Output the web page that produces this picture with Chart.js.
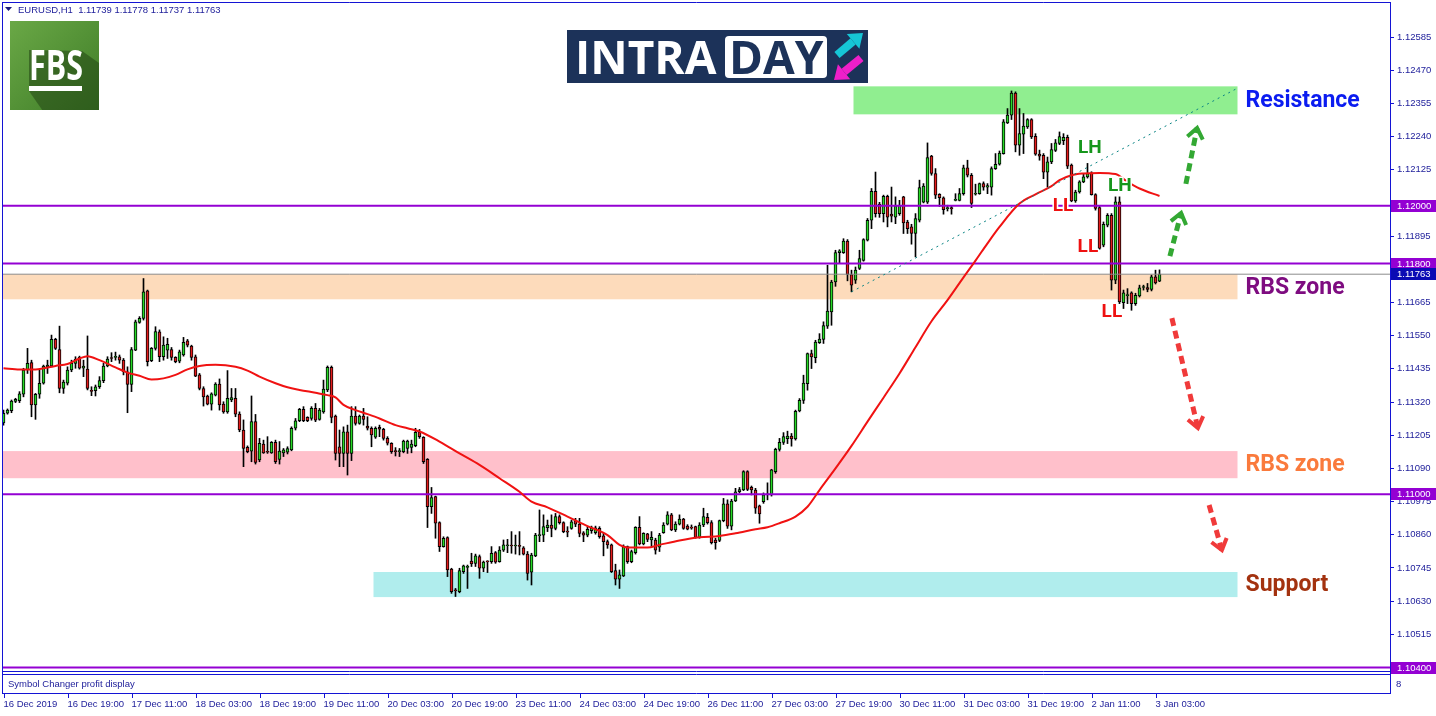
<!DOCTYPE html>
<html>
<head>
<meta charset="utf-8">
<title>EURUSD H1 intraday</title>
<script src="https://cdn.jsdelivr.net/npm/chart.js@4.4.1/dist/chart.umd.min.js"></script>
<style>
  html,body{margin:0;padding:0;background:#fff;}
  canvas{display:block;}
</style>
</head>
<body>
<canvas id="chart" width="1436" height="716"></canvas>
<script>
// ------------------ DATA ------------------
const symbol = "EURUSD", timeframe = "H1";

// one label every 16 hourly bars, first one on bar 0
const labelEvery = 16;
const timeLabels = ["16 Dec 2019","16 Dec 19:00","17 Dec 11:00","18 Dec 03:00","18 Dec 19:00","19 Dec 11:00",
  "20 Dec 03:00","20 Dec 19:00","23 Dec 11:00","24 Dec 03:00","24 Dec 19:00","26 Dec 11:00","27 Dec 03:00",
  "27 Dec 19:00","30 Dec 11:00","31 Dec 03:00","31 Dec 19:00","2 Jan 11:00","3 Jan 03:00"];

const open = [
  1.11248,1.11281,1.11290,1.11322,1.11325,1.11347,1.11431,1.11457,1.11310,1.11347,
  1.11385,1.11442,1.11445,1.11537,1.11502,1.11367,1.11385,1.11431,1.11454,1.11475,
  1.11437,1.11434,1.11358,1.11359,1.11373,1.11394,1.11445,1.11474,1.11475,1.11477,
  1.11465,1.11425,1.11381,1.11500,1.11596,1.11610,1.11705,1.11463,1.11506,1.11563,
  1.11477,1.11500,1.11502,1.11475,1.11462,1.11483,1.11532,1.11514,1.11477,1.11414,
  1.11367,1.11341,1.11313,1.11344,1.11382,1.11313,1.11286,1.11327,1.11333,1.11278,
  1.11223,1.11163,1.11150,1.11252,1.11119,1.11174,1.11148,1.11144,1.11180,1.11121,
  1.11144,1.11146,1.11154,1.11229,1.11255,1.11295,1.11267,1.11263,1.11298,1.11260,
  1.11286,1.11362,1.11440,1.11271,1.11165,1.11142,1.11217,1.11142,1.11271,1.11246,
  1.11271,1.11237,1.11229,1.11198,1.11232,1.11225,1.11194,1.11177,1.11150,1.11148,
  1.11148,1.11159,1.11163,1.11169,1.11215,1.11198,1.11121,1.10957,1.10992,1.10902,
  1.10819,1.10850,1.10741,1.10669,1.10663,1.10732,1.10747,1.10769,1.10761,1.10784,
  1.10744,1.10767,1.10767,1.10798,1.10767,1.10807,1.10822,1.10822,1.10821,1.10822,
  1.10815,1.10793,1.10730,1.10787,1.10857,1.10859,1.10885,1.10894,1.10882,1.10923,
  1.10902,1.10871,1.10882,1.10909,1.10897,1.10867,1.10859,1.10874,1.10867,1.10882,
  1.10856,1.10836,1.10825,1.10736,1.10706,1.10717,1.10819,1.10767,1.10798,1.10886,
  1.10828,1.10863,1.10842,1.10842,1.10817,1.10867,1.10897,1.10929,1.10877,1.10897,
  1.10914,1.10890,1.10884,1.10888,1.10851,1.10894,1.10920,1.10902,1.10842,1.10840,
  1.10909,1.10967,1.10890,1.10977,1.11009,1.11015,1.11079,1.11024,1.11015,1.10960,
  1.10975,1.10998,1.10998,1.11079,1.11156,1.11180,1.11193,1.11202,1.11192,1.11289,
  1.11326,1.11384,1.11488,1.11474,1.11526,1.11537,1.11583,1.11632,1.11736,1.11838,
  1.11838,1.11878,1.11762,1.11742,1.11783,1.11811,1.11881,1.11950,1.12050,1.12006,
  1.11973,1.12033,1.11971,1.11961,1.11973,1.12031,1.11944,1.11927,1.11904,1.11950,
  1.12013,1.12013,1.12172,1.12112,1.12040,1.12028,1.11990,1.11994,1.12019,1.12019,
  1.12042,1.12132,1.12106,1.12040,1.12042,1.12077,1.12065,1.12065,1.12129,1.12144,
  1.12181,1.12287,1.12314,1.12391,1.12210,1.12248,1.12273,1.12299,1.12241,1.12179,
  1.12175,1.12117,1.12152,1.12192,1.12216,1.12226,1.12237,1.12141,1.12017,1.12048,
  1.12083,1.12100,1.12114,1.12039,1.11994,1.11864,1.11933,1.11967,1.11742,1.12014,
  1.11664,1.11689,1.11698,1.11661,1.11688,1.11717,1.11717,1.11710,1.11754,1.11739];

const high = [
  1.11292,1.11296,1.11327,1.11333,1.11356,1.11437,1.11506,1.11465,1.11350,1.11431,
  1.11448,1.11465,1.11552,1.11541,1.11583,1.11396,1.11442,1.11465,1.11477,1.11479,
  1.11465,1.11549,1.11373,1.11379,1.11408,1.11454,1.11477,1.11491,1.11493,1.11483,
  1.11471,1.11442,1.11509,1.11604,1.11616,1.11748,1.11708,1.11509,1.11581,1.11570,
  1.11546,1.11541,1.11509,1.11477,1.11500,1.11544,1.11537,1.11517,1.11483,1.11419,
  1.11373,1.11344,1.11352,1.11387,1.11400,1.11321,1.11429,1.11367,1.11367,1.11286,
  1.11258,1.11168,1.11341,1.11277,1.11194,1.11188,1.11200,1.11183,1.11188,1.11183,
  1.11159,1.11165,1.11234,1.11263,1.11298,1.11304,1.11269,1.11304,1.11315,1.11298,
  1.11396,1.11445,1.11445,1.11275,1.11223,1.11234,1.11240,1.11304,1.11304,1.11275,
  1.11298,1.11269,1.11234,1.11234,1.11240,1.11229,1.11200,1.11179,1.11162,1.11159,
  1.11188,1.11188,1.11188,1.11229,1.11225,1.11200,1.11124,1.11024,1.10994,1.10905,
  1.10853,1.10853,1.10744,1.10674,1.10744,1.10755,1.10755,1.10796,1.10793,1.10790,
  1.10769,1.10770,1.10819,1.10802,1.10819,1.10842,1.10844,1.10871,1.10859,1.10871,
  1.10819,1.10802,1.10796,1.10865,1.10946,1.10929,1.10911,1.10929,1.10934,1.10929,
  1.10905,1.10888,1.10911,1.10917,1.10917,1.10871,1.10888,1.10890,1.10890,1.10888,
  1.10865,1.10842,1.10828,1.10758,1.10738,1.10825,1.10821,1.10807,1.10888,1.10923,
  1.10867,1.10865,1.10871,1.10848,1.10865,1.10902,1.10940,1.10934,1.10905,1.10929,
  1.10917,1.10895,1.10894,1.10890,1.10902,1.10952,1.10934,1.10909,1.10848,1.10911,
  1.10986,1.10981,1.10983,1.11021,1.11024,1.11082,1.11082,1.11029,1.11021,1.10963,
  1.11005,1.11040,1.11087,1.11160,1.11194,1.11214,1.11219,1.11211,1.11292,1.11332,
  1.11413,1.11490,1.11500,1.11534,1.11557,1.11598,1.11794,1.11742,1.11846,1.11848,
  1.11886,1.11883,1.11777,1.11788,1.11846,1.11886,1.11956,1.12060,1.12117,1.12012,
  1.12037,1.12037,1.12065,1.12031,1.12019,1.12033,1.11950,1.11936,1.11973,1.12089,
  1.12077,1.12218,1.12175,1.12129,1.12042,1.12031,1.12002,1.11999,1.12042,1.12060,
  1.12141,1.12158,1.12112,1.12075,1.12079,1.12083,1.12077,1.12135,1.12181,1.12190,
  1.12299,1.12337,1.12398,1.12395,1.12337,1.12320,1.12302,1.12302,1.12250,1.12193,
  1.12181,1.12169,1.12216,1.12230,1.12256,1.12250,1.12245,1.12145,1.12054,1.12087,
  1.12112,1.12147,1.12118,1.12042,1.11998,1.11944,1.11973,1.11973,1.12031,1.12031,
  1.11708,1.11713,1.11702,1.11697,1.11725,1.11725,1.11731,1.11760,1.11777,1.11778];

const low = [
  1.11240,1.11278,1.11283,1.11318,1.11318,1.11338,1.11419,1.11269,1.11260,1.11333,
  1.11382,1.11419,1.11442,1.11502,1.11352,1.11350,1.11379,1.11425,1.11437,1.11434,
  1.11408,1.11362,1.11342,1.11341,1.11367,1.11387,1.11442,1.11460,1.11465,1.11454,
  1.11414,1.11283,1.11356,1.11498,1.11593,1.11604,1.11445,1.11460,1.11500,1.11460,
  1.11465,1.11471,1.11465,1.11456,1.11456,1.11479,1.11511,1.11465,1.11408,1.11362,
  1.11306,1.11310,1.11292,1.11341,1.11292,1.11281,1.11281,1.11321,1.11269,1.11217,
  1.11096,1.11144,1.11113,1.11105,1.11113,1.11142,1.11142,1.11142,1.11107,1.11105,
  1.11131,1.11140,1.11151,1.11223,1.11252,1.11252,1.11252,1.11257,1.11252,1.11257,
  1.11281,1.11356,1.11248,1.11119,1.11096,1.11096,1.11067,1.11117,1.11240,1.11243,
  1.11240,1.11223,1.11165,1.11194,1.11200,1.11188,1.11171,1.11142,1.11133,1.11131,
  1.11144,1.11142,1.11144,1.11165,1.11194,1.11107,1.10885,1.10934,1.10848,1.10802,
  1.10817,1.10715,1.10657,1.10646,1.10659,1.10726,1.10674,1.10750,1.10750,1.10709,
  1.10732,1.10729,1.10761,1.10761,1.10765,1.10802,1.10798,1.10796,1.10793,1.10790,
  1.10790,1.10703,1.10686,1.10784,1.10836,1.10836,1.10871,1.10853,1.10877,1.10897,
  1.10867,1.10853,1.10879,1.10888,1.10853,1.10836,1.10853,1.10865,1.10862,1.10848,
  1.10787,1.10813,1.10729,1.10686,1.10674,1.10715,1.10761,1.10763,1.10793,1.10825,
  1.10825,1.10836,1.10819,1.10793,1.10802,1.10865,1.10894,1.10874,1.10871,1.10894,
  1.10879,1.10877,1.10879,1.10848,1.10848,1.10888,1.10897,1.10828,1.10810,1.10836,
  1.10905,1.10882,1.10877,1.10975,1.11005,1.11013,1.11013,1.10998,1.10934,1.10900,
  1.10969,1.10981,1.10994,1.11073,1.11150,1.11173,1.11176,1.11167,1.11188,1.11286,
  1.11315,1.11361,1.11436,1.11456,1.11523,1.11523,1.11575,1.11586,1.11721,1.11800,
  1.11835,1.11740,1.11702,1.11731,1.11779,1.11808,1.11878,1.11921,1.11961,1.11960,
  1.11944,1.11927,1.11944,1.11938,1.11967,1.11904,1.11904,1.11867,1.11823,1.11944,
  1.12010,1.12008,1.12106,1.12025,1.11998,1.11971,1.11982,1.11971,1.12017,1.12017,
  1.12037,1.12100,1.11994,1.12037,1.12040,1.12054,1.12042,1.12037,1.12126,1.12141,
  1.12179,1.12285,1.12299,1.12187,1.12175,1.12181,1.12268,1.12233,1.12175,1.12158,
  1.12094,1.12065,1.12146,1.12188,1.12212,1.12212,1.12129,1.12014,1.12012,1.12044,
  1.12080,1.12096,1.12037,1.11985,1.11849,1.11858,1.11927,1.11708,1.11730,1.11661,
  1.11644,1.11661,1.11638,1.11655,1.11684,1.11708,1.11702,1.11705,1.11729,1.11737];

const close = [
  1.11281,1.11292,1.11323,1.11329,1.11348,1.11431,1.11454,1.11310,1.11347,1.11385,
  1.11445,1.11448,1.11537,1.11506,1.11367,1.11389,1.11431,1.11454,1.11468,1.11437,
  1.11445,1.11367,1.11357,1.11373,1.11394,1.11445,1.11469,1.11471,1.11477,1.11465,
  1.11425,1.11381,1.11502,1.11598,1.11610,1.11702,1.11460,1.11506,1.11564,1.11477,
  1.11517,1.11520,1.11475,1.11460,1.11494,1.11527,1.11517,1.11475,1.11410,1.11367,
  1.11338,1.11313,1.11348,1.11382,1.11310,1.11286,1.11333,1.11335,1.11278,1.11223,
  1.11159,1.11148,1.11252,1.11111,1.11177,1.11144,1.11146,1.11180,1.11113,1.11150,
  1.11154,1.11159,1.11229,1.11255,1.11295,1.11255,1.11255,1.11298,1.11257,1.11292,
  1.11365,1.11440,1.11267,1.11142,1.11142,1.11217,1.11142,1.11271,1.11246,1.11271,
  1.11260,1.11229,1.11206,1.11229,1.11226,1.11194,1.11177,1.11148,1.11148,1.11150,
  1.11185,1.11185,1.11174,1.11215,1.11200,1.11113,1.10957,1.10989,1.10900,1.10819,
  1.10848,1.10738,1.10663,1.10666,1.10736,1.10752,1.10750,1.10759,1.10787,1.10744,
  1.10765,1.10766,1.10796,1.10765,1.10807,1.10825,1.10823,1.10821,1.10823,1.10820,
  1.10793,1.10726,1.10790,1.10859,1.10860,1.10888,1.10894,1.10882,1.10923,1.10902,
  1.10871,1.10869,1.10905,1.10897,1.10865,1.10859,1.10879,1.10882,1.10884,1.10853,
  1.10836,1.10825,1.10732,1.10706,1.10721,1.10819,1.10767,1.10802,1.10886,1.10828,
  1.10865,1.10844,1.10851,1.10807,1.10859,1.10894,1.10929,1.10877,1.10897,1.10914,
  1.10882,1.10879,1.10883,1.10851,1.10894,1.10923,1.10902,1.10833,1.10833,1.10909,
  1.10967,1.10890,1.10977,1.11009,1.11017,1.11079,1.11017,1.11015,1.10952,1.10932,
  1.10998,1.10999,1.11085,1.11156,1.11180,1.11200,1.11202,1.11192,1.11288,1.11326,
  1.11386,1.11488,1.11476,1.11528,1.11538,1.11585,1.11635,1.11736,1.11838,1.11844,
  1.11878,1.11762,1.11725,1.11777,1.11817,1.11883,1.11950,1.12050,1.11973,1.11973,
  1.12033,1.11961,1.11964,1.12000,1.12002,1.11941,1.11921,1.11904,1.11956,1.12063,
  1.12068,1.12167,1.12112,1.12037,1.12028,1.11987,1.11993,1.11989,1.12022,1.12042,
  1.12132,1.12106,1.12008,1.12042,1.12077,1.12065,1.12070,1.12129,1.12144,1.12183,
  1.12291,1.12314,1.12391,1.12210,1.12250,1.12276,1.12299,1.12239,1.12179,1.12172,
  1.12117,1.12152,1.12195,1.12218,1.12240,1.12237,1.12137,1.12017,1.12048,1.12083,
  1.12100,1.12112,1.12039,1.11991,1.11852,1.11936,1.11967,1.11742,1.12014,1.11667,
  1.11698,1.11691,1.11661,1.11690,1.11716,1.11718,1.11710,1.11754,1.11733,1.11763];

// moving average (bar index, price)
const maBar = [0,4,8,10,13,16,19,21,24,28,31,34,37,40,43,46,49,53,58,61,64,68,71,74,78,81,83,85,88,91,
  94,98,101,104,109,114,119,124,129,132,136,141,146,151,154,156,161,164,169,174,179,183,188,191,194,198,
  201,204,208,212,216,220,224,228,232,236,240,243,246,249,254,258,262,264,267,270,274,278,281,284,289];
const maValue = [1.11437,1.11433,1.11433,1.11437,1.11445,1.11452,1.11471,1.11479,1.11465,1.11440,
  1.11422,1.11411,1.11398,1.11402,1.11414,1.11433,1.11445,1.11449,1.11442,1.11429,
  1.11408,1.11385,1.11371,1.11362,1.11352,1.11344,1.11336,1.11310,1.11292,1.11278,
  1.11263,1.11240,1.11229,1.11218,1.11183,1.11142,1.11102,1.11056,1.11009,1.10975,
  1.10955,1.10923,1.10890,1.10859,1.10825,1.10816,1.10816,1.10825,1.10840,1.10851,
  1.10856,1.10865,1.10879,1.10886,1.10900,1.10923,1.10957,1.11015,1.11090,1.11168,
  1.11252,1.11335,1.11419,1.11510,1.11600,1.11673,1.11752,1.11810,1.11870,1.11927,
  1.12008,1.12040,1.12068,1.12089,1.12106,1.12112,1.12114,1.12110,1.12083,1.12060,1.12034];

const priceTicks = [1.10515,1.10630,1.10745,1.10860,1.10975,1.11090,1.11205,1.11320,1.11435,1.11550,
  1.11665,1.11780,1.11895,1.12010,1.12125,1.12240,1.12355,1.12470,1.12585];
const levels = [1.12000, 1.11800, 1.11000, 1.10400];
const bidPrice = 1.11763;

const zoneNames  = ["Resistance", "RBS zone", "RBS zone", "Support"];
const zoneTop    = [1.12414, 1.11763, 1.11150, 1.10731];
const zoneBottom = [1.12317, 1.11676, 1.11056, 1.10644];
const zoneFrom   = [213, 0, 0, 93];
const zoneTo     = [308, 308, 308, 308];
const zoneLabelBar = 310.5;

const swingText  = ["LH", "LL", "LL", "LH", "LL"];
const swingBar   = [271.6, 264.9, 271.1, 279.1, 277.1];
const swingPrice = [1.12200, 1.11999, 1.11857, 1.12069, 1.11632];

const trendBar = [212, 308];
const trendValue = [1.11702, 1.12404];

const arrowFromBar = [291.6, 295.6, 292.1, 301.4];
const arrowToBar   = [294.4, 298.4, 298.6, 304.6];
const arrowFrom    = [1.11826, 1.12076, 1.11611, 1.10963];
const arrowTo      = [1.11975, 1.12270, 1.11230, 1.10807];

// ------------------ STYLE ------------------
const BLUE = "#1414d4", TXT = "#22229c", PURPLE = "#9400d3";
const BULL = "#26d926", BEAR = "#e41c1c";
const zoneFill = ["#90ee90", "#fddbbb", "#ffc0cb", "#b0eded"];
const zoneText = ["#0b1cf0", "#7e0c80", "#fa7a3c", "#a3320f"];
const FONT = '"Liberation Sans", Arial, sans-serif';
const xMin = -0.125, xMax = 346.625;
const yMin = 1.1038789, yMax = 1.1270283;

const bars = open.map((o, i) => i);
const lastBar = bars.length - 1;

// ------------------ HELPERS ------------------
function arrowShape(ctx, x1, y1, x2, y2, w, head, color){
  const a = Math.atan2(y2 - y1, x2 - x1);
  const bx = x2 - Math.cos(a) * head, by = y2 - Math.sin(a) * head;
  ctx.strokeStyle = color; ctx.lineWidth = w; ctx.lineCap = "butt";
  ctx.beginPath(); ctx.moveTo(x1, y1); ctx.lineTo(bx, by); ctx.stroke();
  ctx.fillStyle = color; ctx.beginPath();
  ctx.moveTo(x2, y2);
  ctx.lineTo(bx + Math.cos(a + Math.PI/2) * head * 0.75, by + Math.sin(a + Math.PI/2) * head * 0.75);
  ctx.lineTo(bx - Math.cos(a + Math.PI/2) * head * 0.75, by - Math.sin(a + Math.PI/2) * head * 0.75);
  ctx.closePath(); ctx.fill();
}

function drawFBS(ctx){
  const x = 10, y = 21, w = 89, h = 89;
  const g = ctx.createLinearGradient(x, y, x + w, y + h);
  g.addColorStop(0, "#6aa846"); g.addColorStop(1, "#3e7c27");
  ctx.fillStyle = g; ctx.fillRect(x, y, w, h);
  ctx.save();
  ctx.beginPath(); ctx.rect(x, y, w, h); ctx.clip();
  ctx.fillStyle = "rgba(35,70,20,0.55)";
  ctx.beginPath();
  ctx.moveTo(x + 72, y + 30); ctx.lineTo(x + w + 40, y + 70); ctx.lineTo(x + 60, y + h + 40);
  ctx.lineTo(x + 19, y + 70); ctx.lineTo(x + 19, y + 29); ctx.closePath(); ctx.fill();
  ctx.restore();
  ctx.fillStyle = "#fff";
  ctx.font = 'bold 41px "Open Sans", sans-serif';
  ctx.textAlign = "left"; ctx.textBaseline = "alphabetic";
  ctx.fillText("FBS", x + 19, y + 59, 54);
  ctx.fillRect(x + 19, y + 65, 53, 5);
}

function drawIntraday(ctx){
  ctx.fillStyle = "#1c3259"; ctx.fillRect(567, 30, 301, 53);
  ctx.fillStyle = "#fff";
  ctx.font = 'bold 46px "Open Sans", sans-serif';
  ctx.textAlign = "left"; ctx.textBaseline = "alphabetic";
  ctx.fillText("INTRA", 575, 74, 149);
  ctx.beginPath(); ctx.roundRect(725, 36, 102, 42, 4); ctx.fill();
  ctx.fillStyle = "#1c3259";
  ctx.fillText("DAY", 729, 74, 95);
  arrowShape(ctx, 837, 55, 863, 33, 8, 13, "#16c6d6");
  arrowShape(ctx, 861, 58, 834, 80, 8, 13, "#ee1fc9");
}

// ------------------ PLUGIN ------------------
const decor = {
  id: "decor",
  beforeDraw(chart){
    const ctx = chart.ctx;
    ctx.save(); ctx.fillStyle = "#fff"; ctx.fillRect(0, 0, chart.width, chart.height); ctx.restore();
  },
  beforeDatasetsDraw(chart){
    const {ctx, chartArea: a, scales: {x, y}} = chart;
    ctx.save();
    ctx.beginPath(); ctx.rect(a.left, a.top, a.right - a.left, a.bottom - a.top); ctx.clip();
    zoneNames.forEach((n, k) => {
      const x0 = Math.max(a.left, x.getPixelForValue(zoneFrom[k]) - 2);
      const x1 = x.getPixelForValue(zoneTo[k]) + 2;
      const y0 = y.getPixelForValue(zoneTop[k]), y1 = y.getPixelForValue(zoneBottom[k]);
      ctx.fillStyle = zoneFill[k];
      ctx.fillRect(x0, y0, x1 - x0, y1 - y0);
    });
    ctx.restore();
  },
  afterDatasetsDraw(chart){
    const {ctx, scales: {x, y}} = chart;
    ctx.save();
    // arrow heads
    arrowToBar.forEach((b, k) => {
      const x1 = x.getPixelForValue(arrowFromBar[k]), y1 = y.getPixelForValue(arrowFrom[k]);
      const x2 = x.getPixelForValue(b), y2 = y.getPixelForValue(arrowTo[k]);
      const a = Math.atan2(y2 - y1, x2 - x1);
      ctx.strokeStyle = arrowTo[k] > arrowFrom[k] ? "#33a833" : "#f03a3a";
      ctx.lineWidth = 4; ctx.lineCap = "butt";
      ctx.beginPath();
      ctx.moveTo(x2 - Math.cos(a - 0.65) * 13, y2 - Math.sin(a - 0.65) * 13);
      ctx.lineTo(x2, y2);
      ctx.lineTo(x2 - Math.cos(a + 0.65) * 13, y2 - Math.sin(a + 0.65) * 13);
      ctx.stroke();
    });
    // zone labels
    ctx.font = 'bold 23px Roboto, sans-serif';
    ctx.textAlign = "left"; ctx.textBaseline = "middle";
    zoneNames.forEach((n, k) => {
      ctx.fillStyle = zoneText[k];
      ctx.fillText(n, x.getPixelForValue(zoneLabelBar), y.getPixelForValue((zoneTop[k] + zoneBottom[k]) / 2) + 1);
    });
    // swing labels
    ctx.font = 'bold 19px Roboto, sans-serif';
    ctx.textAlign = "center";
    swingText.forEach((t, k) => {
      const px = x.getPixelForValue(swingBar[k]), py = y.getPixelForValue(swingPrice[k]);
      ctx.lineWidth = 3; ctx.strokeStyle = "#fff"; ctx.lineJoin = "round";
      ctx.strokeText(t, px, py);
      ctx.fillStyle = t === "LH" ? "#16961c" : "#ee1111";
      ctx.fillText(t, px, py);
    });
    ctx.restore();
    ctx.save();
    drawFBS(ctx);
    drawIntraday(ctx);
    ctx.restore();
  },
  afterDraw(chart){
    const {ctx, scales: {x, y}} = chart;
    ctx.save();
    // header
    ctx.fillStyle = "#1a1a7a";
    ctx.beginPath(); ctx.moveTo(5, 7); ctx.lineTo(12, 7); ctx.lineTo(8.5, 11); ctx.closePath(); ctx.fill();
    ctx.fillStyle = TXT; ctx.font = "9.5px " + FONT;
    ctx.textAlign = "left"; ctx.textBaseline = "middle";
    ctx.fillText(symbol + "," + timeframe + "  " + [open, high, low, close].map(s => s[lastBar].toFixed(5)).join(" "), 18, 10);
    // window frames
    ctx.strokeStyle = BLUE; ctx.lineWidth = 1;
    ctx.beginPath();
    ctx.moveTo(2.5, 2); ctx.lineTo(2.5, 694);
    ctx.moveTo(2, 2.5); ctx.lineTo(1391, 2.5);
    ctx.moveTo(1390.5, 2); ctx.lineTo(1390.5, 694);
    ctx.moveTo(2, 671.5); ctx.lineTo(1391, 671.5);
    ctx.moveTo(2, 674.5); ctx.lineTo(1391, 674.5);
    ctx.moveTo(2, 693.5); ctx.lineTo(1391, 693.5);
    x.ticks.forEach(t => {
      const px = Math.round(x.getPixelForValue(t.value)) + 0.5;
      ctx.moveTo(px, 694); ctx.lineTo(px, 698);
    });
    ctx.stroke();
    ctx.fillStyle = TXT;
    ctx.fillText("Symbol Changer profit display", 8, 684);
    ctx.fillText("8", 1396, 684);
    // price boxes on the axis
    const box = (p, bg) => {
      const py = Math.round(y.getPixelForValue(p));
      ctx.fillStyle = bg; ctx.fillRect(1391, py - 6, 45, 12);
      ctx.fillStyle = "#fff"; ctx.fillText(p.toFixed(5), 1397, py);
    };
    levels.forEach(l => box(l, PURPLE));
    box(bidPrice, "#0a0ab4");
    ctx.restore();
  }
};

// ------------------ DATASETS ------------------
const wickSet = {
  type: "bar", order: 10, grouped: false,
  data: bars.map(i => ({x: i, y: [low[i], high[i]]})),
  backgroundColor: "#000", borderWidth: 0, barThickness: 1
};
const bodySet = {
  type: "bar", order: 9, grouped: false,
  data: bars.map(i => ({x: i, y: [open[i], close[i]]})),
  backgroundColor: bars.map(i => close[i] >= open[i] ? BULL : BEAR),
  borderColor: "#000", borderWidth: 1, borderSkipped: false, barThickness: 3, minBarLength: 1
};
const levelSets = levels.map(l => ({
  type: "line", order: 4, data: [{x: xMin, y: l}, {x: xMax, y: l}],
  borderColor: PURPLE, borderWidth: 2, pointRadius: 0
}));
const bidSet = {
  type: "line", order: 5, data: [{x: xMin, y: bidPrice}, {x: xMax, y: bidPrice}],
  borderColor: "#8c8c8c", borderWidth: 1, pointRadius: 0
};
const maSet = {
  type: "line", order: 2,
  data: maBar.map((b, k) => ({x: b, y: maValue[k]})),
  borderColor: "#f01212", borderWidth: 2, pointRadius: 0, cubicInterpolationMode: "monotone"
};
const trendSet = {
  type: "line", order: 1,
  data: trendBar.map((b, k) => ({x: b, y: trendValue[k]})),
  borderColor: "#0b8585", borderWidth: 1, borderDash: [2, 4], pointRadius: 0
};
const arrowSets = arrowToBar.map((b, k) => ({
  type: "line", order: 0,
  data: [{x: arrowFromBar[k], y: arrowFrom[k]}, {x: b, y: arrowTo[k]}],
  borderColor: arrowTo[k] > arrowFrom[k] ? "#33a833" : "#f03a3a",
  borderWidth: 5, borderDash: [8, 5], borderCapStyle: "butt", pointRadius: 0
}));

// ------------------ CHART ------------------
new Chart(document.getElementById("chart"), {
  type: "bar",
  data: {datasets: [wickSet, bodySet, bidSet, ...levelSets, maSet, trendSet, ...arrowSets]},
  options: {
    responsive: false, animation: false, devicePixelRatio: 1,
    layout: {padding: {left: 3, top: 3, right: 0, bottom: 0}},
    plugins: {legend: {display: false}, tooltip: {enabled: false}},
    scales: {
      x: {
        type: "linear", min: xMin, max: xMax, offset: false,
        grid: {display: false, offset: false}, border: {display: false},
        afterBuildTicks: s => { s.ticks = timeLabels.map((t, k) => ({value: k * labelEvery})); },
        afterFit: s => { s.height = 45; s.paddingLeft = 0; s.paddingRight = 0; },
        ticks: {
          autoSkip: false, maxRotation: 0, align: "start", padding: 20,
          color: TXT, font: {family: FONT, size: 9.5},
          callback: v => timeLabels[Math.round(v / labelEvery)]
        }
      },
      y: {
        type: "linear", position: "right", min: yMin, max: yMax, beginAtZero: false,
        grid: {drawOnChartArea: false, drawTicks: true, tickLength: 4, color: BLUE},
        border: {display: true, color: BLUE},
        afterBuildTicks: s => { s.ticks = priceTicks.map(v => ({value: v})); },
        afterFit: s => { s.width = 46; s.paddingTop = 0; s.paddingBottom = 0; },
        ticks: {
          autoSkip: false, padding: 3, color: TXT, font: {family: FONT, size: 9.5},
          callback: v => v.toFixed(5)
        }
      }
    }
  },
  plugins: [decor]
});
</script>
</body>
</html>
